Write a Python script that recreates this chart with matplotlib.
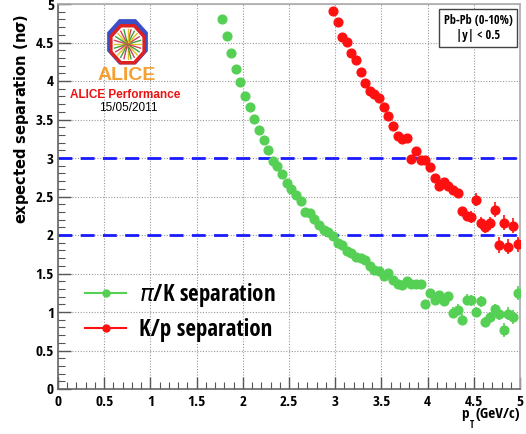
import numpy as np
import matplotlib
matplotlib.use("Agg")
import matplotlib.pyplot as plt
from matplotlib.patches import RegularPolygon
from matplotlib.lines import Line2D
from matplotlib import font_manager as fm

# ---- data ----
pik_pt = [1.775 + 0.05 * k for k in range(65)]
pik_sep = [4.81, 4.58, 4.37, 4.15, 3.99, 3.81, 3.66, 3.51, 3.36, 3.23,
           3.11, 2.96, 2.89, 2.79, 2.67, 2.60, 2.52, 2.44, 2.30, 2.29,
           2.21, 2.13, 2.06, 2.04, 1.99, 1.89, 1.87, 1.79, 1.77, 1.72,
           1.70, 1.67, 1.60, 1.55, 1.53, 1.47, 1.51, 1.41, 1.37, 1.35,
           1.40, 1.36, 1.36, 1.37, 1.10, 1.25, 1.16, 1.22, 1.14, 1.21,
           0.99, 1.03, 0.90, 1.16, 1.15, 1.00, 1.14, 0.87, 0.93, 1.04,
           0.98, 0.77, 0.98, 0.94, 1.25]
pik_err = [0.01] * 20 + [0.015] * 10 + [0.02] * 10 + [0.04] * 10 + [0.07] * 10 + [0.09] * 5

kp_pt = [2.975 + 0.05 * k for k in range(41)]
kp_sep = [4.91, 4.76, 4.57, 4.51, 4.36, 4.27, 4.12, 3.98, 3.87, 3.83,
          3.78, 3.66, 3.54, 3.42, 3.28, 3.25, 3.26, 2.99, 3.09, 2.98,
          2.98, 2.88, 2.74, 2.63, 2.69, 2.63, 2.59, 2.55, 2.31, 2.25,
          2.23, 2.46, 2.16, 2.10, 2.15, 2.33, 1.87, 2.16, 1.85, 2.12,
          1.88]
kp_err = [0.02] * 10 + [0.03] * 10 + [0.05] * 10 + [0.08] * 5 + [0.1] * 6

ref_lines = [3, 2]
xticks = [0, 0.5, 1, 1.5, 2, 2.5, 3, 3.5, 4, 4.5, 5]
yticks = [0, 0.5, 1, 1.5, 2, 2.5, 3, 3.5, 4, 4.5, 5]

GREEN = "#55d055"
RED = "#ff1010"

_cond_path = None
for f in fm.fontManager.ttflist:
    if f.fname.endswith('OpenSans-CondBold.ttf'):
        _cond_path = f.fname
        break


def narrow_bold(size):
    if _cond_path:
        return fm.FontProperties(fname=_cond_path, size=size)
    return fm.FontProperties(family='Liberation Sans', weight='bold', size=size)


def fx(px): return px / 526
def fy(py): return 1 - py / 434


fig = plt.figure(figsize=(5.26, 4.34), dpi=100)
ax = fig.add_axes([fx(58), fy(389), (520 - 58) / 526, (389 - 4) / 434])

ax.set_xlim(0, 5)
ax.set_ylim(0, 5)

ax.grid(True, color="#999999", linestyle=(0, (1, 1.5)), linewidth=0.8)
ax.set_axisbelow(True)

for yv in ref_lines:
    ax.axhline(yv, color="#1a1aff", linestyle=(0, (5, 3)), linewidth=2.0, zorder=2)

ax.errorbar(pik_pt, pik_sep, yerr=pik_err, fmt='o', color=GREEN, ms=6.3,
            mec=GREEN, elinewidth=1.2, capsize=0, zorder=3)
ax.errorbar(kp_pt, kp_sep, yerr=kp_err, fmt='o', color=RED, ms=6.3,
            mec=RED, elinewidth=1.2, capsize=0, zorder=3)

tickfont = narrow_bold(11)
ax.set_xticks(xticks)
ax.set_yticks(yticks)
ax.set_xticklabels([f"{v:g}" for v in xticks], fontproperties=tickfont)
ax.set_yticklabels([f"{v:g}" for v in yticks], fontproperties=tickfont)
ax.set_xticks(np.arange(0, 5.001, 0.1), minor=True)
ax.set_yticks(np.arange(0, 5.001, 0.1), minor=True)
ax.tick_params(which='major', direction='in', length=9, width=1, color="#555555",
               top=False, right=False)
ax.tick_params(axis='y', which='major', pad=3)
ax.tick_params(axis='x', which='major', pad=4)
ax.tick_params(which='minor', direction='in', length=5, width=0.8, color="#555555",
               top=False, right=False)
ax.grid(False, which='minor')

for s in ['top', 'right']:
    ax.spines[s].set_color("#aaaaaa")
for s in ['left', 'bottom']:
    ax.spines[s].set_color("#666666")
for s in ax.spines.values():
    s.set_linewidth(1.2)

fig.text(fx(22), fy(119), r"expected separation (n$\mathbf{\sigma}$)", rotation=90,
         ha='center', va='center', fontsize=10.5, fontweight='bold',
         family=['DejaVu Sans'])

# x-axis title: p_T (GeV/c)
fig.text(fx(520), fy(414), "(GeV/c)", ha='right', va='center', fontproperties=narrow_bold(11))
fig.text(fx(469), fy(414), "p", ha='right', va='center', fontproperties=narrow_bold(11))
fig.text(fx(469.5), fy(425), "T", ha='left', va='center', fontproperties=narrow_bold(7))

# legend
handles = [Line2D([0], [0], color=GREEN, marker='o', ms=5, lw=1.5),
           Line2D([0], [0], color=RED, marker='o', ms=5, lw=1.5)]
leg = ax.legend(handles, [r"$\pi$/K separation", "K/p separation"],
                loc='center left', bbox_to_anchor=((85 - 58) / 462, (389 - 311.5) / 385),
                frameon=False, handlelength=1.8, handletextpad=0.55, labelspacing=0.42,
                borderaxespad=0, borderpad=0, prop=narrow_bold(16.5))

# info box
ax.text((478 - 58) / 462, (389 - 28) / 385, "Pb-Pb (0-10%)\n|y| < 0.5", transform=ax.transAxes,
        ha='center', va='center', linespacing=1.25, fontproperties=narrow_bold(8.8),
        bbox=dict(boxstyle='square,pad=0.35', fc='white', ec='#444444', lw=1.0))

# ALICE logo (simplified)
logo_ax = fig.add_axes([fx(105), fy(68), fx(45), 50 / 434])
logo_ax.set_xlim(-1, 1); logo_ax.set_ylim(-1, 1); logo_ax.axis('off')
logo_ax.add_patch(RegularPolygon((0, 0.05), 8, radius=0.98, orientation=np.pi / 8,
                                 fc='#3a4fc8', ec='none'))
logo_ax.add_patch(RegularPolygon((0, -0.05), 8, radius=0.8, orientation=np.pi / 8,
                                 fc='white', ec='#dd2020', lw=2.5))
for i, ang in enumerate(np.linspace(0, 2 * np.pi, 24, endpoint=False)):
    logo_ax.plot([0, 0.6 * np.cos(ang)], [-0.05, -0.05 + 0.6 * np.sin(ang)],
                 color=['#e0c020', '#40a040', '#d04060'][i % 3], lw=1)
logo_ax.add_patch(plt.Circle((0, -0.05), 0.15, color='#f0e040'))
fig.text(fx(127), fy(76), "ALICE", ha='center', va='center', fontsize=14,
         fontweight='bold', color='#f5a030', family=['Liberation Sans', 'DejaVu Sans'])
fig.text(fx(125), fy(95), "ALICE Performance", ha='center', va='center', fontsize=8.5,
         fontweight='bold', color='#ee1111', family=['Liberation Sans', 'DejaVu Sans'])
fig.text(fx(128), fy(108), "15/05/2011", ha='center', va='center', fontsize=8.5,
         color='black', family=['Liberation Sans', 'DejaVu Sans'])

fig.savefig("out.png", dpi=100)
